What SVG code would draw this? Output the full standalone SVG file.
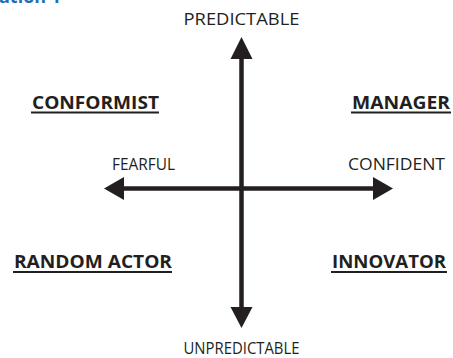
<svg xmlns="http://www.w3.org/2000/svg" width="453" height="358" viewBox="0 0 453 358">
  <style>
    .axis { font-family: "Open Sans", "Noto Sans", sans-serif; font-size: 16px; fill: #231f20; }
    .quad { font-family: "Open Sans", "Noto Sans", sans-serif; font-size: 18px; font-weight: bold; fill: #231f20; }
    .rule { stroke: #231f20; stroke-width: 2; }
    .shaft { stroke: #231f20; stroke-width: 4.5; fill: none; }
    .head { fill: #231f20; }
  </style>
  <rect width="453" height="358" fill="#ffffff"/>

  <!-- caption cut off at the top edge -->
  <text x="-1" y="3" font-family="Open Sans, sans-serif" font-size="18" font-weight="bold" fill="#1f6fb4">ation 1</text>

  <g id="connectors">
    <!-- vertical axis -->
    <line class="shaft" x1="241.5" y1="56" x2="241.5" y2="310"/>
    <polygon class="head" points="241.5,37 252.5,59 230.5,59"/>
    <polygon class="head" points="241.5,328 252.5,307 230.5,307"/>
    <!-- horizontal axis -->
    <line class="shaft" x1="120" y1="188.5" x2="376" y2="188.5"/>
    <polygon class="head" points="104,188.5 124,177 124,200"/>
    <polygon class="head" points="393,188.5 373,177 373,200"/>
  </g>

  <g id="predictable"><text class="axis" x="241.5" y="25" text-anchor="middle" textLength="116" lengthAdjust="spacingAndGlyphs">PREDICTABLE</text></g>
  <g id="unpredictable"><text class="axis" x="241.5" y="354" text-anchor="middle" textLength="116" lengthAdjust="spacingAndGlyphs">UNPREDICTABLE</text></g>
  <g id="fearful"><text class="axis" x="112" y="170" textLength="63" lengthAdjust="spacingAndGlyphs">FEARFUL</text></g>
  <g id="confident"><text class="axis" x="348" y="170" textLength="97" lengthAdjust="spacingAndGlyphs">CONFIDENT</text></g>

  <g id="conformist">
    <text class="quad" x="32" y="109" textLength="127" lengthAdjust="spacingAndGlyphs">CONFORMIST</text>
    <line class="rule" x1="31" y1="112.5" x2="159" y2="112.5"/>
  </g>
  <g id="manager">
    <text class="quad" x="352" y="109" textLength="98" lengthAdjust="spacingAndGlyphs">MANAGER</text>
    <line class="rule" x1="351" y1="112.5" x2="451" y2="112.5"/>
  </g>
  <g id="random-actor">
    <text class="quad" x="14" y="268" textLength="158" lengthAdjust="spacingAndGlyphs">RANDOM ACTOR</text>
    <line class="rule" x1="13" y1="272" x2="172" y2="272"/>
  </g>
  <g id="innovator">
    <text class="quad" x="332" y="268" textLength="114" lengthAdjust="spacingAndGlyphs">INNOVATOR</text>
    <line class="rule" x1="331" y1="272" x2="447" y2="272"/>
  </g>
</svg>
